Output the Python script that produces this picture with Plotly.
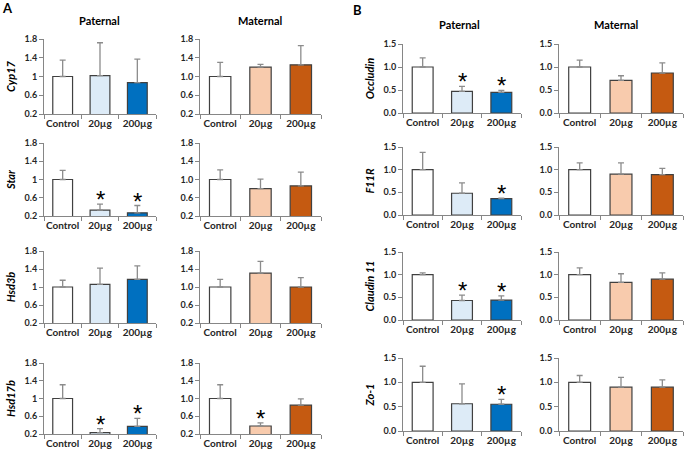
import plotly.graph_objects as go

# ---------------------------------------
# Data
# ---------------------------------------
groups = ["Control", "20µg", "200µg"]

genes_a = ["Cyp17", "Star", "Hsd3b", "Hsd17b"]
genes_b = ["Occludin", "F11R", "Claudin 11", "Zo-1"]

# A - paternal
pat_a_mean = [[1.00, 1.02, 0.87], [1.00, 0.33, 0.27], [1.00, 1.06, 1.17], [1.00, 0.23, 0.37]]
pat_a_err = [[0.35, 0.70, 0.50], [0.20, 0.13, 0.16], [0.15, 0.36, 0.30], [0.31, 0.09, 0.18]]
pat_a_sig = [[0, 0, 0], [0, 1, 1], [0, 0, 0], [0, 1, 1]]

# A - maternal
mat_a_mean = [[1.00, 1.20, 1.25], [1.00, 0.80, 0.86], [1.00, 1.31, 1.00], [1.00, 0.38, 0.85]]
mat_a_err = [[0.30, 0.06, 0.41], [0.21, 0.21, 0.30], [0.17, 0.26, 0.21], [0.31, 0.07, 0.14]]
mat_a_sig = [[0, 0, 0], [0, 0, 0], [0, 0, 0], [0, 1, 0]]

# B - paternal
pat_b_mean = [[1.00, 0.47, 0.45], [1.00, 0.48, 0.36], [1.00, 0.43, 0.44], [1.00, 0.56, 0.55]]
pat_b_err = [[0.20, 0.11, 0.04], [0.38, 0.23, 0.01], [0.04, 0.12, 0.09], [0.33, 0.41, 0.10]]
pat_b_sig = [[0, 1, 1], [0, 0, 1], [0, 1, 1], [0, 0, 1]]

# B - maternal
mat_b_mean = [[1.00, 0.71, 0.87], [1.00, 0.90, 0.89], [1.00, 0.83, 0.90], [1.00, 0.90, 0.90]]
mat_b_err = [[0.15, 0.10, 0.22], [0.15, 0.25, 0.14], [0.15, 0.19, 0.14], [0.14, 0.20, 0.15]]
mat_b_sig = [[0, 0, 0], [0, 0, 0], [0, 0, 0], [0, 0, 0]]

ticks_a = [0.2, 0.6, 1.0, 1.4, 1.8]
ticktext_a_pat = ["0.2", "0.6", "1", "1.4", "1.8"]
ticktext_a_mat = ["0.2", "0.6", "1.0", "1.4", "1.8"]
ticks_b = [0.0, 0.5, 1.0, 1.5]
ticktext_b = ["0.0", "0.5", "1.0", "1.5"]

pat_colors = ["#FFFFFF", "#DDEBF7", "#0070C0"]
mat_colors = ["#FFFFFF", "#F8CBAD", "#C55A11"]

W, H = 685, 453
FONT = "Lato"

# column x extents / row y extents in pixels
cols_px = [(44, 156), (200, 321), (403, 521), (559, 683)]
rows_a_px = [(39, 114), (143, 216), (251, 323), (363, 434)]
rows_b_px = [(44, 113), (147, 215), (252, 320), (358, 431)]

panels = [
    # col, genes, means, errs, sigs, colors, ticks, ticktext, range, rows, show title
    (0, genes_a, pat_a_mean, pat_a_err, pat_a_sig, pat_colors, ticks_a, ticktext_a_pat, [0.2, 1.8], rows_a_px, True),
    (1, genes_a, mat_a_mean, mat_a_err, mat_a_sig, mat_colors, ticks_a, ticktext_a_mat, [0.2, 1.8], rows_a_px, False),
    (2, genes_b, pat_b_mean, pat_b_err, pat_b_sig, pat_colors, ticks_b, ticktext_b, [0.0, 1.5], rows_b_px, True),
    (3, genes_b, mat_b_mean, mat_b_err, mat_b_sig, mat_colors, ticks_b, ticktext_b, [0.0, 1.5], rows_b_px, False),
]

fig = go.Figure()
layout = {}
annotations = []
n = 0

for col, genes, means, errs, sigs, colors, tv, tt, rng, rows, show_title in panels:
    x0, x1 = cols_px[col]
    for r in range(4):
        n += 1
        xa = "x" if n == 1 else f"x{n}"
        ya = "y" if n == 1 else f"y{n}"
        y0, y1 = rows[r]

        fig.add_trace(go.Bar(
            x=groups,
            y=means[r],
            marker=dict(color=colors, line=dict(color="#404040", width=1.2)),
            width=0.53,
            error_y=dict(type="data", symmetric=False, array=errs[r],
                         arrayminus=[0, 0, 0], color="#8C8C8C",
                         thickness=1.3, width=3),
            xaxis=xa, yaxis=ya, showlegend=False
        ))

        layout["xaxis" if n == 1 else f"xaxis{n}"] = dict(
            domain=[x0 / W, x1 / W], anchor=ya, automargin=False,
            showline=True, linecolor="#868686", linewidth=1,
            ticks="outside", tickson="boundaries", ticklen=4, tickcolor="#868686",
            tickangle=0,
            tickfont=dict(family=FONT, size=10, color="#262626", weight="bold"),
            showgrid=False, fixedrange=True
        )
        layout["yaxis" if n == 1 else f"yaxis{n}"] = dict(
            domain=[1 - y1 / H, 1 - y0 / H], anchor=xa, range=rng, automargin=False,
            tickvals=tv, ticktext=tt,
            showline=True, linecolor="#868686", linewidth=1,
            ticks="outside", ticklen=4, tickcolor="#868686",
            tickfont=dict(family=FONT, size=9, color="#262626", weight="bold"),
            showgrid=False, zeroline=False, fixedrange=True,
            title=dict(text=f"<b><i>{genes[r]}</i></b>" if show_title else "",
                       font=dict(family=FONT, size=11, color="#000000"),
                       standoff=6)
        )

        for i, g in enumerate(groups):
            if sigs[r][i]:
                annotations.append(dict(
                    x=g, y=means[r][i] + errs[r][i], xref=xa, yref=ya,
                    text="*", showarrow=False, yanchor="bottom", yshift=-11,
                    font=dict(family="Liberation Sans", size=24, color="#000000")
                ))

# panel headers
headers = [
    ("A", 7, 8, 13), ("B", 357, 10, 13),
    ("Paternal", 100, 20, 11), ("Maternal", 260, 20, 11),
    ("Paternal", 460, 24, 11), ("Maternal", 616, 24, 11),
]
for text, px, py, size in headers:
    annotations.append(dict(
        x=px / W, y=1 - py / H, xref="paper", yref="paper",
        xanchor="center", yanchor="middle",
        text=f"<b>{text}</b>", showarrow=False,
        font=dict(family=FONT, size=size, color="#000000")
    ))

fig.update_layout(
    **layout,
    annotations=annotations,
    width=W, height=H,
    margin=dict(l=0, r=0, t=0, b=0, autoexpand=False),
    plot_bgcolor="white", paper_bgcolor="white",
    bargap=0.47
)

fig.write_html(
    "out.html",
    config={"displayModeBar": False},
    post_script="document.body.style.margin='0';document.body.style.overflow='hidden';"
)
